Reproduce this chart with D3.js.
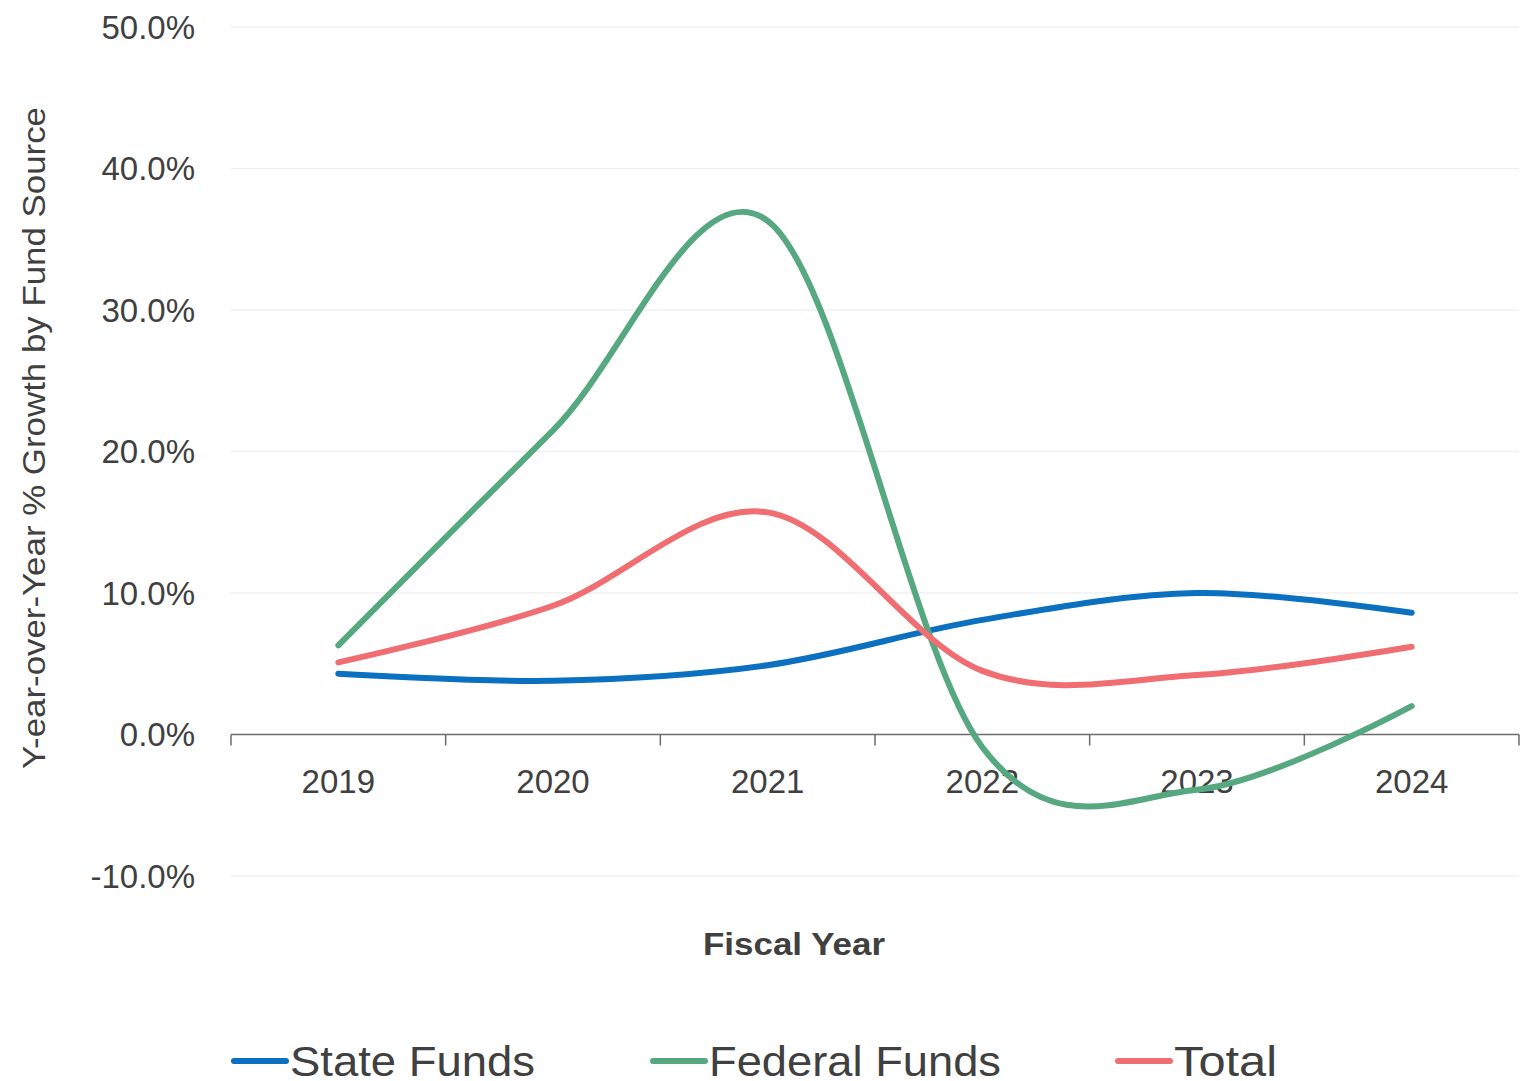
<!DOCTYPE html>
<html>
<head>
<meta charset="utf-8">
<script src="https://cdn.jsdelivr.net/npm/d3@7"></script>
<style>
  body { margin: 0; background: #fff; }
  text { font-family: "Liberation Sans", Arial, sans-serif; fill: #404040; }
</style>
</head>
<body>
<div id="chart"></div>
<script>
// fiscal years on the x axis
var years = ["2019", "2020", "2021", "2022", "2023", "2024"];

// year-over-year growth, percent
var stateFunds   = [4.3, 3.8, 4.9, 8.1, 10.0, 8.6];
var federalFunds = [6.3, 21.5, 36.3, -0.9, -3.9, 2.0];
var totalFunds   = [5.1, 9.1, 15.7, 4.5, 4.2, 6.2];

var seriesNames  = ["State Funds", "Federal Funds", "Total"];
var seriesColors = ["#0a70bf", "#55a87f", "#f06e71"];
var yTicks = [-10, 0, 10, 20, 30, 40, 50];

var width = 1531,
    height = 1081;

var svg = d3.select("#chart")
  .append("svg")
    .attr("width", width)
    .attr("height", height);

var x = d3.scaleBand()
  .domain(years)
  .range([231, 1519]);

var y = d3.scaleLinear()
  .domain([-10, 50])
  .range([876, 27]);

// gridlines
svg.append("g")
  .selectAll("line")
  .data(yTicks.filter(function(d){ return d !== 0; }))
  .enter().append("line")
    .attr("x1", 231)
    .attr("x2", 1519)
    .attr("y1", function(d){ return y(d); })
    .attr("y2", function(d){ return y(d); })
    .attr("stroke", "#f0f0f0")
    .attr("stroke-width", 1.5);

// y labels (plain hyphen for negatives, like the original)
svg.append("g")
  .selectAll("text")
  .data(yTicks)
  .enter().append("text")
    .attr("x", 195)
    .attr("y", function(d){ return y(d); })
    .attr("dy", "0.36em")
    .attr("text-anchor", "end")
    .style("font-size", "33px")
    .text(function(d){ return d.toFixed(1) + "%"; });

// x axis at zero
var xAxis = svg.append("g")
  .attr("transform", "translate(0," + y(0) + ")");
xAxis.append("line")
  .attr("x1", 231).attr("x2", 1519)
  .attr("stroke", "#6b6b6b").attr("stroke-width", 1.5);
var edges = d3.range(years.length + 1).map(function(i){ return x.range()[0] + i * x.step(); });
xAxis.selectAll(".edge")
  .data(edges)
  .enter().append("line")
    .attr("class", "edge")
    .attr("x1", function(d){ return d; })
    .attr("x2", function(d){ return d; })
    .attr("y1", 0).attr("y2", 11)
    .attr("stroke", "#6b6b6b").attr("stroke-width", 1.5);

svg.append("g")
  .selectAll("text")
  .data(years)
  .enter().append("text")
    .attr("x", function(d){ return x(d) + x.bandwidth() / 2; })
    .attr("y", 793)
    .attr("text-anchor", "middle")
    .style("font-size", "33px")
    .text(function(d){ return d; });

// axis titles
svg.append("text")
  .attr("x", 794)
  .attr("y", 955)
  .attr("text-anchor", "middle")
  .attr("textLength", 182)
  .attr("lengthAdjust", "spacingAndGlyphs")
  .style("font-size", "32px")
  .style("font-weight", "bold")
  .text("Fiscal Year");

svg.append("text")
  .attr("transform", "translate(45,438) rotate(-90)")
  .attr("text-anchor", "middle")
  .attr("textLength", 662)
  .attr("lengthAdjust", "spacingAndGlyphs")
  .style("font-size", "32px")
  .text("Y-ear-over-Year % Growth by Fund Source");

// lines
var line = d3.line()
  .x(function(d, i){ return x(years[i]) + x.bandwidth() / 2; })
  .y(function(d){ return y(d); })
  .curve(d3.curveCatmullRom.alpha(0));

var allSeries = [stateFunds, federalFunds, totalFunds];

svg.append("g")
  .selectAll("path")
  .data(allSeries)
  .enter().append("path")
    .attr("d", line)
    .attr("fill", "none")
    .attr("stroke", function(d, i){ return seriesColors[i]; })
    .attr("stroke-width", 6)
    .attr("stroke-linecap", "round");

// legend
var legendX = [231, 650, 1115];
var legendW = [245, 292, 103];
var legend = svg.append("g")
  .selectAll("g")
  .data(seriesNames)
  .enter().append("g")
    .attr("transform", function(d, i){ return "translate(" + legendX[i] + ",1061)"; });

legend.append("line")
  .attr("x1", 3).attr("x2", 55)
  .attr("stroke", function(d, i){ return seriesColors[i]; })
  .attr("stroke-width", 6)
  .attr("stroke-linecap", "round");

legend.append("text")
  .attr("x", 59)
  .attr("y", 15)
  .attr("textLength", function(d, i){ return legendW[i]; })
  .attr("lengthAdjust", "spacingAndGlyphs")
  .style("font-size", "43px")
  .text(function(d){ return d; });
</script>
</body>
</html>
